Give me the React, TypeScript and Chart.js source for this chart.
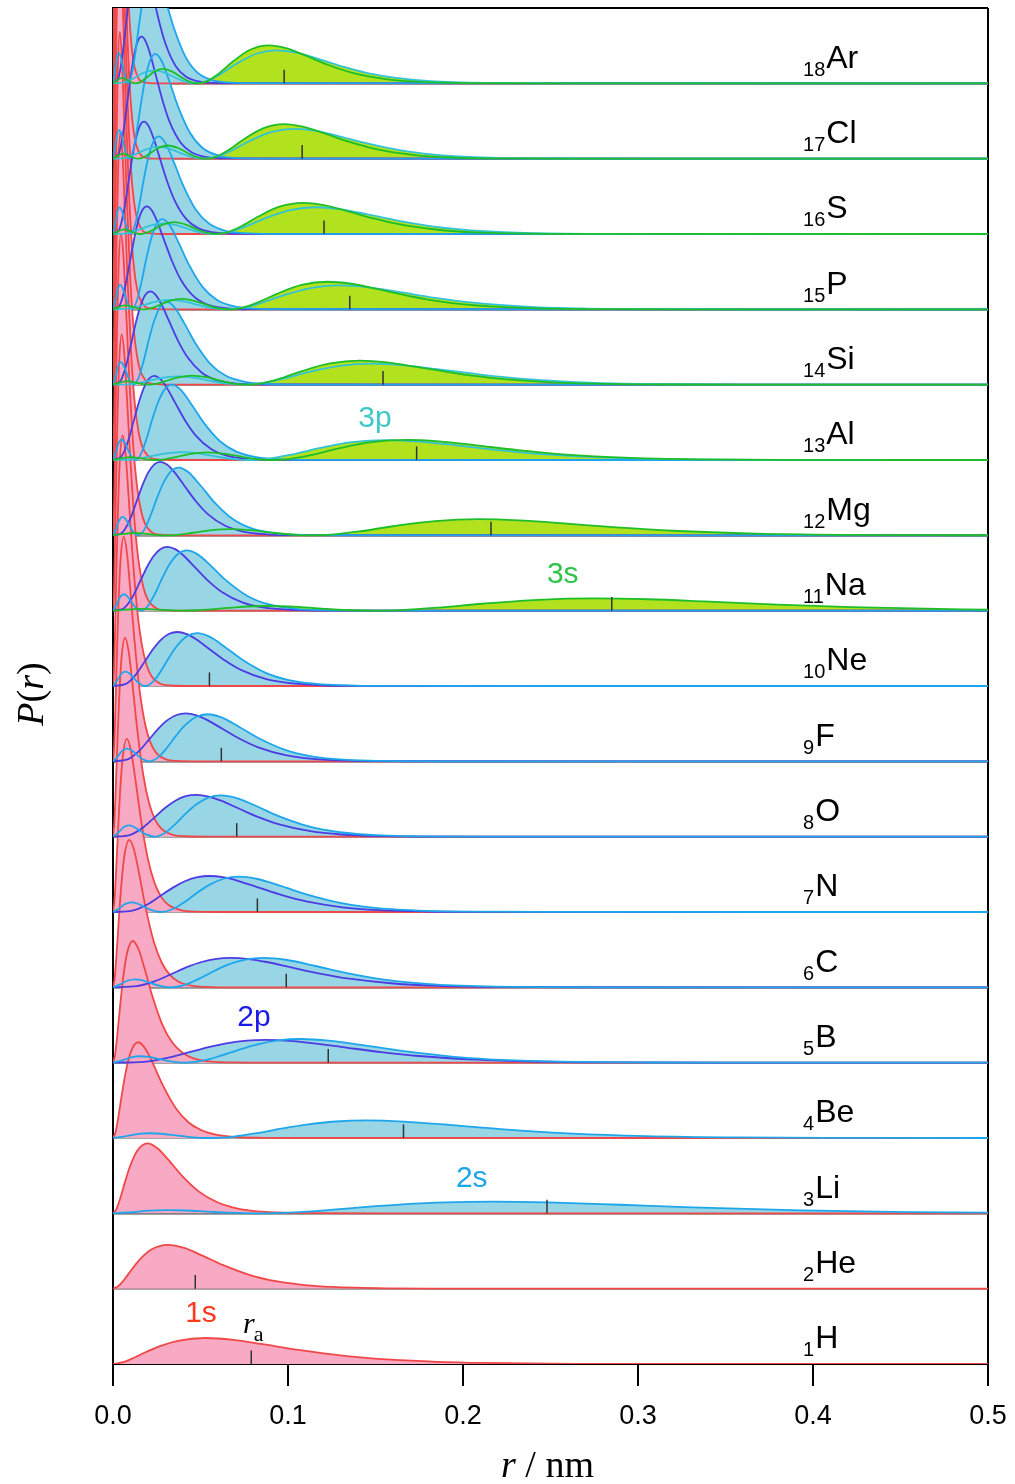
import React, { useEffect, useRef } from 'react';
import { Chart, registerables } from 'chart.js';

Chart.register(...registerables);

// ---------------- data ----------------
const ELEMENTS = ['H', 'He', 'Li', 'Be', 'B', 'C', 'N', 'O', 'F', 'Ne', 'Na', 'Mg', 'Al', 'Si', 'P', 'S', 'Cl', 'Ar'];
const ATOMIC_NUMBERS = [1, 2, 3, 4, 5, 6, 7, 8, 9, 10, 11, 12, 13, 14, 15, 16, 17, 18];
// mean radius r_a (small black tick in each panel), nm
const R_A = [0.079, 0.047, 0.248, 0.166, 0.123, 0.099, 0.0825, 0.0707, 0.0619, 0.0551, 0.285, 0.216, 0.1735, 0.1543, 0.1353, 0.1206, 0.1081, 0.0978];

const X_TICKS = [0, 0.1, 0.2, 0.3, 0.4, 0.5];
const X_TICK_LABELS = ['0.0', '0.1', '0.2', '0.3', '0.4', '0.5'];

// curve shapes: r in units of the outer peak position, P relative to the outer peak height
const SHAPE_1S_R = [0, 0.1, 0.2, 0.35, 0.5, 0.7, 1.0, 1.3, 1.6, 2.0, 2.5, 3.0, 3.5, 4.0, 5.0, 6.0, 8.0];
const SHAPE_1S_P = [0, 0.06, 0.198, 0.45, 0.68, 0.893, 1, 0.928, 0.771, 0.541, 0.311, 0.165, 0.083, 0.04, 0.008, 0.002, 0];

const SHAPE_2S_R = [0, 0.048, 0.095, 0.146, 0.191, 0.248, 0.306, 0.382, 0.477, 0.573, 0.668, 0.764, 0.879, 1, 1.146, 1.337, 1.528, 1.814, 2.101, 2.483, 2.865, 3.438];
const SHAPE_2S_P = [0, 0.098, 0.223, 0.272, 0.241, 0.148, 0.054, 0, 0.084, 0.293, 0.545, 0.767, 0.941, 1, 0.934, 0.731, 0.506, 0.249, 0.107, 0.03, 0.008, 0.001];

const SHAPE_2P_R = [0, 0.2, 0.35, 0.5, 0.625, 0.75, 0.875, 1, 1.15, 1.3, 1.5, 1.75, 2, 2.375, 2.75, 3.25, 4];
const SHAPE_2P_P = [0, 0.039, 0.202, 0.462, 0.684, 0.86, 0.967, 1, 0.96, 0.86, 0.685, 0.467, 0.293, 0.13, 0.052, 0.014, 0.002];

const SHAPE_3S_R = [0, 0.023, 0.057, 0.092, 0.122, 0.146, 0.176, 0.214, 0.26, 0.321, 0.383, 0.444, 0.497, 0.543, 0.597, 0.673, 0.765, 0.88, 1, 1.109, 1.224, 1.377, 1.53, 1.76, 1.989, 2.295, 2.678];
const SHAPE_3S_P = [0, 0.07, 0.146, 0.089, 0.019, 0, 0.033, 0.145, 0.295, 0.381, 0.302, 0.144, 0.034, 0, 0.046, 0.242, 0.563, 0.885, 1, 0.928, 0.753, 0.491, 0.283, 0.105, 0.033, 0.006, 0.001];

const SHAPE_3P_R = [0, 0.067, 0.125, 0.183, 0.25, 0.317, 0.383, 0.442, 0.5, 0.567, 0.65, 0.75, 0.875, 1, 1.125, 1.25, 1.417, 1.583, 1.833, 2.083, 2.417, 2.833];
const SHAPE_3P_P = [0, 0.026, 0.151, 0.312, 0.394, 0.32, 0.163, 0.045, 0, 0.059, 0.264, 0.585, 0.896, 1, 0.921, 0.743, 0.484, 0.278, 0.102, 0.033, 0.006, 0.001];

// per element: outer peak position (nm) and peak height (in panel heights); null = orbital absent
const PEAK_1S = [0.0529, 0.0313, 0.01966, 0.01436, 0.0113, 0.00932, 0.00794, 0.00691, 0.00612, 0.00549, 0.00498, 0.00456, 0.0042, 0.0039, 0.00363, 0.0034, 0.0032, 0.00302];
const HEIGHT_1S = [0.345, 0.582, 0.928, 1.271, 1.615, 1.957, 2.299, 2.642, 2.984, 3.326, 3.666, 4.005, 4.344, 4.683, 5.023, 5.362, 5.701, 6.04];

const PEAK_2S = [null, null, 0.2166, 0.1449, 0.1075, 0.0861, 0.072, 0.0617, 0.054, 0.0481, 0.0422, 0.0375, 0.0337, 0.0307, 0.0282, 0.0261, 0.0242, 0.0226];
const HEIGHT_2S = [null, null, 0.156, 0.233, 0.314, 0.392, 0.469, 0.547, 0.625, 0.701, 0.8, 0.9, 1.0, 1.099, 1.197, 1.295, 1.392, 1.49];

const PEAK_2P = [null, null, null, null, 0.0874, 0.0675, 0.0552, 0.0475, 0.0415, 0.0367, 0.0311, 0.027, 0.0236, 0.0213, 0.0193, 0.0177, 0.0163, 0.0151];
const HEIGHT_2P = [null, null, null, null, 0.302, 0.391, 0.478, 0.555, 0.636, 0.717, 0.848, 0.975, 1.117, 1.239, 1.366, 1.492, 1.619, 1.745];

const PEAK_3S = [null, null, null, null, null, null, null, null, null, null, 0.2758, 0.209, 0.1679, 0.141, 0.1225, 0.1086, 0.0978, 0.0891];
const HEIGHT_3S = [null, null, null, null, null, null, null, null, null, null, 0.163, 0.214, 0.267, 0.318, 0.366, 0.413, 0.458, 0.503];

const PEAK_3P = [null, null, null, null, null, null, null, null, null, null, null, null, 0.1561, 0.1481, 0.1299, 0.1158, 0.1038, 0.0938];
const HEIGHT_3P = [null, null, null, null, null, null, null, null, null, null, null, null, 0.264, 0.278, 0.317, 0.355, 0.396, 0.438];

// ---------------- styles ----------------
const SANS = '"Liberation Sans", Arial, Helvetica, sans-serif';
const SERIF = '"Liberation Serif", "Times New Roman", Times, serif';
const X_MAX = 0.5;
const PANELS = 18;

const ORBITALS = [
  { r: SHAPE_1S_R, p: SHAPE_1S_P, peak: PEAK_1S, height: HEIGHT_1S, line: '#f04848', fill: '#f8a9c4', lineOrder: 500, fillOrder: 900 },
  { r: SHAPE_2P_R, p: SHAPE_2P_P, peak: PEAK_2P, height: HEIGHT_2P, line: '#4c3ce2', fill: '#98d6e6', lineOrder: 400, fillOrder: 1000 },
  { r: SHAPE_2S_R, p: SHAPE_2S_P, peak: PEAK_2S, height: HEIGHT_2S, line: '#1ea6ec', fill: '#98d6e6', lineOrder: 300, fillOrder: 1000 },
  { r: SHAPE_3P_R, p: SHAPE_3P_P, peak: PEAK_3P, height: HEIGHT_3P, line: '#32c3d7', fill: '#b2e21e', lineOrder: 200, fillOrder: 1000 },
  { r: SHAPE_3S_R, p: SHAPE_3S_P, peak: PEAK_3S, height: HEIGHT_3S, line: '#1ebe28', fill: '#b2e21e', lineOrder: 100, fillOrder: 1000 },
];

const ORBITAL_LABELS = [
  { text: '1s', color: '#ff3a1f', x: 0.0503, y: 0.56 },
  { text: '2s', color: '#1ea6ec', x: 0.205, y: 2.35 },
  { text: '2p', color: '#1a1ae6', x: 0.0806, y: 4.49 },
  { text: '3s', color: '#2ec44a', x: 0.257, y: 10.37 },
  { text: '3p', color: '#3fc8c8', x: 0.1497, y: 12.44 },
];

function buildCurve(shapeR: number[], shapeP: number[], peak: number, height: number, base: number) {
  const pts = shapeR.map((s, k) => ({ x: s * peak, y: base + shapeP[k] * height }));
  if (pts[pts.length - 1].x < X_MAX) pts.push({ x: X_MAX, y: base });
  return pts;
}

function buildDatasets() {
  const ds: any[] = [];
  ORBITALS.forEach((orb) => {
    for (let i = 0; i < PANELS; i++) {
      const pk = orb.peak[i];
      const h = orb.height[i];
      if (pk == null || h == null) continue;
      const data = buildCurve(orb.r, orb.p, pk, h, i);
      ds.push({
        data, borderColor: 'rgba(0,0,0,0)', borderWidth: 1, backgroundColor: orb.fill,
        fill: { value: i }, order: orb.fillOrder, pointRadius: 0, cubicInterpolationMode: 'monotone',
      });
      ds.push({
        data, borderColor: orb.line, borderWidth: 1.8, fill: false,
        order: orb.lineOrder, pointRadius: 0, cubicInterpolationMode: 'monotone',
      });
    }
  });
  R_A.forEach((ra, i) => {
    ds.push({
      data: [{ x: ra, y: i }, { x: ra, y: i + 0.18 }], borderColor: '#333333', borderWidth: 1.5,
      fill: false, pointRadius: 0, order: 0,
    });
  });
  return ds;
}

function drawParts(ctx: CanvasRenderingContext2D, parts: { t: string; it: boolean }[], size: number, cx: number, by: number) {
  const widths = parts.map((p) => {
    ctx.font = `${p.it ? 'italic ' : ''}${size}px ${SERIF}`;
    return ctx.measureText(p.t).width;
  });
  const total = widths.reduce((a, b) => a + b, 0);
  let x = cx - total / 2;
  parts.forEach((p, k) => {
    ctx.font = `${p.it ? 'italic ' : ''}${size}px ${SERIF}`;
    ctx.fillText(p.t, x, by);
    x += widths[k];
  });
}

const textPlugin = {
  id: 'textLabels',
  afterDraw(chart: any) {
    const { ctx, chartArea } = chart;
    const xs = chart.scales.x;
    const ys = chart.scales.y;
    ctx.save();
    ctx.textBaseline = 'alphabetic';
    ctx.textAlign = 'left';
    ctx.fillStyle = '#000';

    // element labels
    const lx = xs.getPixelForValue(0.3943);
    ELEMENTS.forEach((sym, i) => {
      const sub = String(ATOMIC_NUMBERS[i]);
      ctx.font = `20px ${SANS}`;
      ctx.fillText(sub, lx, ys.getPixelForValue(i + 0.1));
      const w = ctx.measureText(sub).width;
      ctx.font = `32px ${SANS}`;
      ctx.fillText(sym, lx + w + 1, ys.getPixelForValue(i + 0.21));
    });

    // orbital labels
    ctx.textAlign = 'center';
    ORBITAL_LABELS.forEach((l) => {
      ctx.fillStyle = l.color;
      ctx.font = `30px ${SANS}`;
      ctx.fillText(l.text, xs.getPixelForValue(l.x), ys.getPixelForValue(l.y));
    });

    // r_a label
    ctx.textAlign = 'left';
    ctx.fillStyle = '#000';
    ctx.font = `italic 30px ${SERIF}`;
    const rx = xs.getPixelForValue(0.0743);
    ctx.fillText('r', rx, ys.getPixelForValue(0.41));
    const rw = ctx.measureText('r').width;
    ctx.font = `22px ${SERIF}`;
    ctx.fillText('a', rx + rw - 1, ys.getPixelForValue(0.305));

    // axis titles
    const midX = (chartArea.left + chartArea.right) / 2 - 3;
    drawParts(ctx, [{ t: 'r', it: true }, { t: ' / nm', it: false }], 38, midX, chartArea.bottom + 113);

    ctx.save();
    ctx.translate(chartArea.left - 70, (chartArea.top + chartArea.bottom) / 2 + 8);
    ctx.rotate(-Math.PI / 2);
    drawParts(ctx, [{ t: 'P', it: true }, { t: '(', it: false }, { t: 'r', it: true }, { t: ')', it: false }], 38, 0, 0);
    ctx.restore();

    ctx.restore();
  },
};

export default function App() {
  const ref = useRef<HTMLCanvasElement | null>(null);

  useEffect(() => {
    if (!ref.current) return;
    const chart = new Chart(ref.current, {
      type: 'line',
      data: { datasets: buildDatasets() },
      options: {
        animation: false,
        responsive: false,
        devicePixelRatio: 1,
        events: [],
        layout: { padding: { top: 8, right: 27, bottom: 0, left: 0 } },
        plugins: { legend: { display: false }, tooltip: { enabled: false } },
        scales: {
          x: {
            type: 'linear',
            min: 0,
            max: X_MAX,
            afterBuildTicks: (scale: any) => {
              scale.ticks = X_TICKS.map((v) => ({ value: v }));
            },
            afterFit: (scale: any) => {
              scale.height = 120;
              scale.paddingLeft = 0;
              scale.paddingRight = 0;
            },
            ticks: {
              callback: (_v: any, idx: number) => X_TICK_LABELS[idx],
              color: '#000',
              font: { family: SANS, size: 27 },
              padding: 14,
              maxRotation: 0,
            },
            grid: {
              drawOnChartArea: true,
              color: (c: any) => (c.tick && c.tick.value === X_MAX ? '#000' : 'rgba(0,0,0,0)'),
              lineWidth: 2,
              tickColor: '#000',
              tickWidth: 2,
              tickLength: 22,
            },
            border: { display: true, color: '#000', width: 2 },
          },
          y: {
            type: 'linear',
            min: 0,
            max: PANELS,
            afterFit: (scale: any) => {
              scale.width = 113;
            },
            ticks: { display: false, stepSize: 1 },
            grid: {
              drawTicks: false,
              color: (c: any) => {
                const v = c.tick ? c.tick.value : -1;
                if (v === 0) return 'rgba(0,0,0,0)';
                if (v === PANELS) return '#000';
                return '#4a4a4a';
              },
              lineWidth: (c: any) => (c.tick && c.tick.value === PANELS ? 2 : 1.5),
            },
            border: { display: true, color: '#000', width: 2 },
          },
        },
      },
      plugins: [textPlugin],
    } as any);
    return () => chart.destroy();
  }, []);

  return (
    <div style={{ position: 'absolute', left: 0, top: 0, width: 1015, height: 1484, background: '#fff' }}>
      <canvas ref={ref} width={1015} height={1484} style={{ display: 'block' }} />
    </div>
  );
}
